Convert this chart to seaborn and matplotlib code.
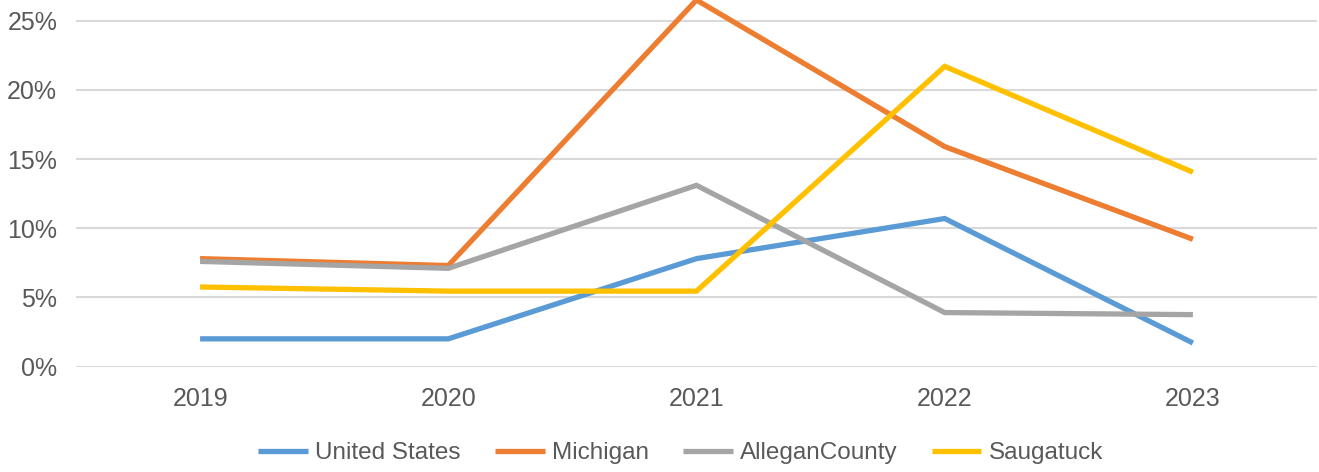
import pandas as pd
import matplotlib.pyplot as plt
import seaborn as sns
from matplotlib.ticker import PercentFormatter

# Values (percent)
years = [2019, 2020, 2021, 2022, 2023]
united_states = [2.0, 2.0, 7.8, 10.7, 1.7]
michigan = [7.8, 7.3, 26.5, 15.9, 9.2]
allegan_county = [7.6, 7.1, 13.1, 3.9, 3.75]
saugatuck = [5.75, 5.45, 5.45, 21.7, 14.05]

series_names = ['United States', 'Michigan', 'AlleganCounty', 'Saugatuck']
colors = ['#5b9bd5', '#ed7d31', '#a5a5a5', '#ffc000']

# Long-form table for seaborn
df = pd.DataFrame({
    'Year': years * 4,
    'Value': united_states + michigan + allegan_county + saugatuck,
    'Area': [n for n in series_names for _ in years],
})

sns.set_style('white')
plt.rcParams['font.family'] = ['Liberation Sans', 'DejaVu Sans']

fig = plt.figure(figsize=(13.19, 4.72), dpi=100)
ax = fig.add_axes([0.0576, 0.2235, 0.9409, 0.7765])

sns.lineplot(data=df, x='Year', y='Value', hue='Area', hue_order=series_names,
             palette=colors, linewidth=3.8, ax=ax, legend=True,
             solid_capstyle='butt', solid_joinstyle='miter')

ax.set_xlim(2018.5, 2023.5)
ax.set_ylim(0, 26.5)
ax.set_xticks(years)
ax.set_yticks([0, 5, 10, 15, 20, 25])
ax.yaxis.set_major_formatter(PercentFormatter(decimals=0))
ax.grid(axis='y', color='#d9d9d9', linewidth=1.5)
ax.set_axisbelow(True)
for s in ax.spines.values():
    s.set_visible(False)
ax.tick_params(axis='both', length=0, labelsize=18, colors='#595959')
ax.tick_params(axis='y', pad=13.5)
ax.tick_params(axis='x', pad=15)
ax.set_xlabel('')
ax.set_ylabel('')

handles, labels = ax.get_legend_handles_labels()
for h in handles:
    h.set_solid_capstyle('butt')
    h.set_linewidth(3.8)
ax.legend(handles, labels, loc='center', bbox_to_anchor=(0.516, 0.040),
          bbox_transform=fig.transFigure, ncol=4, frameon=False, fontsize=17.5,
          labelcolor='#595959', handlelength=2.05, handletextpad=0.3,
          columnspacing=1.4)

fig.savefig('out.png', dpi=100)
